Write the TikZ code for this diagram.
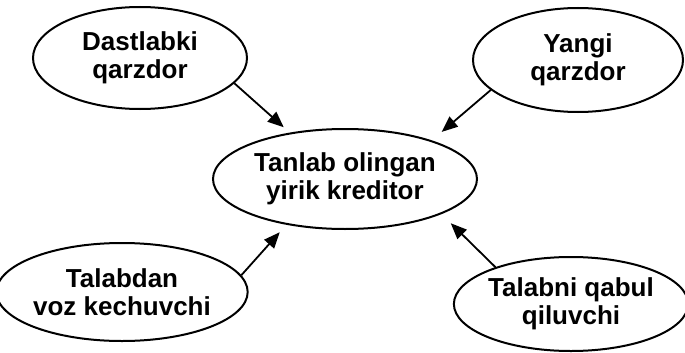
\documentclass[tikz,border=0pt]{standalone}
\usepackage{fontspec}
\setmainfont{Liberation Sans}
\usetikzlibrary{shapes.geometric,arrows.meta}
\begin{document}
\begin{tikzpicture}[x=1pt,y=-1pt,
  oval/.style={ellipse,draw,line width=2pt,inner sep=0pt,align=center,
    font=\fontsize{26}{28}\selectfont\bfseries},
  link/.style={line width=1.8pt,-{Triangle[length=16pt,width=13pt]}}]
\useasboundingbox (0,0) rectangle (685,353);
\node[oval,minimum width=214pt,minimum height=102pt] (tl) at (140,58) {Dastlabki\\qarzdor};
\node[oval,minimum width=210pt,minimum height=104pt] (tr) at (578,60) {Yangi\\qarzdor};
\node[oval,minimum width=264pt,minimum height=100pt] (c) at (345,179) {Tanlab olingan\\yirik kreditor};
\node[oval,minimum width=230pt,minimum height=98pt] (bl) at (122,292) {Talabdan\\voz kechuvchi};
\node[oval,minimum width=222pt,minimum height=94pt] (br) at (571,304) {Talabni qabul\\qiluvchi};
\draw[link,shorten >=8pt] (tl.-15) -- (c.140.8);
\draw[link,shorten >=13pt] (tr.-161.8) -- (c.24);
\draw[link,shorten >=10pt] (bl.8.3) -- (c.-142);
\draw[link,shorten >=13pt] (br.154) -- (c.-20);
\end{tikzpicture}
\end{document}
